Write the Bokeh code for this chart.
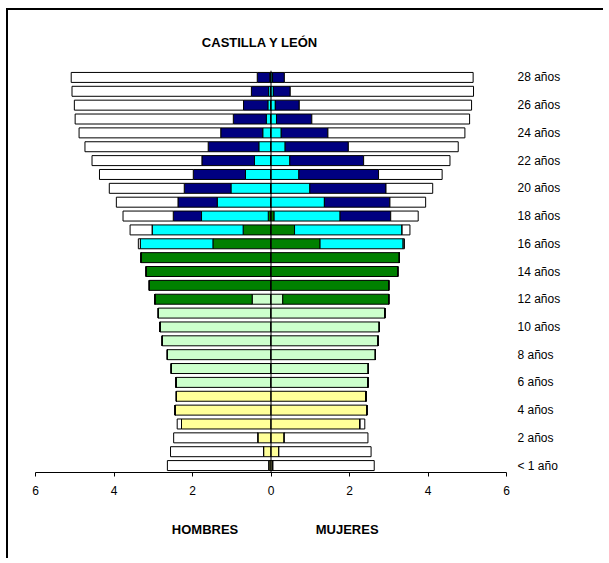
from bokeh.plotting import figure
from bokeh.layouts import column
from bokeh.models import ColumnDataSource, FixedTicker, Span, LinearAxis
from bokeh.embed import file_html
from bokeh.resources import INLINE

# ---------------- data ----------------
ages = list(range(29))
age_labels = ["< 1 año"] + [f"{a} años" for a in range(1, 29)]
x_ticks = [-6, -4, -2, 0, 2, 4, 6]
x_tick_labels = ["6", "4", "2", "0", "2", "4", "6"]
title_text = "CASTILLA Y LEÓN"
sex_labels = ["HOMBRES", "MUJERES"]

categories = ["Infantil", "Primaria", "ESO", "Bachillerato_FP", "Universidad", "No_estudia"]
colors = ["#FFFF99", "#CCFFCC", "#008000", "#00FFFF", "#000080", "#FFFFFF"]

# HOMBRES (ages 0..28)
h_infantil = [0.06, 0.19, 0.34, 2.28, 2.44, 2.41, 0, 0, 0, 0, 0, 0, 0, 0, 0,
              0, 0, 0, 0, 0, 0, 0, 0, 0, 0, 0, 0, 0, 0]
h_primaria = [0, 0, 0, 0, 0, 0, 2.42, 2.54, 2.64, 2.77, 2.83, 2.87, 0.48, 0, 0,
              0, 0, 0, 0, 0, 0, 0, 0, 0, 0, 0, 0, 0, 0]
h_eso = [0, 0, 0, 0, 0, 0, 0, 0, 0, 0, 0, 0, 2.48, 3.10, 3.18,
         3.31, 1.48, 0.71, 0.07, 0, 0, 0, 0, 0, 0, 0, 0, 0, 0]
h_bach = [0, 0, 0, 0, 0, 0, 0, 0, 0, 0, 0, 0, 0, 0, 0,
          0, 1.85, 2.32, 1.70, 1.37, 1.02, 0.65, 0.42, 0.31, 0.21, 0.12, 0.08, 0.06, 0.03]
h_univ = [0, 0, 0, 0, 0, 0, 0, 0, 0, 0, 0, 0, 0, 0, 0,
          0, 0, 0, 0.72, 1.00, 1.19, 1.33, 1.34, 1.29, 1.07, 0.84, 0.62, 0.44, 0.32]
h_no = [2.58, 2.37, 2.14, 0.11, 0, 0, 0, 0, 0, 0, 0, 0, 0, 0, 0,
        0, 0.05, 0.56, 1.28, 1.57, 1.91, 2.39, 2.80, 3.14, 3.61, 4.03, 4.31, 4.57, 4.74]

# MUJERES (ages 0..28)
m_infantil = [0.05, 0.20, 0.34, 2.27, 2.44, 2.42, 0, 0, 0, 0, 0, 0, 0, 0, 0,
              0, 0, 0, 0, 0, 0, 0, 0, 0, 0, 0, 0, 0, 0]
m_primaria = [0, 0, 0, 0, 0, 0, 2.47, 2.48, 2.66, 2.73, 2.76, 2.90, 0.30, 0, 0,
              0, 0, 0, 0, 0, 0, 0, 0, 0, 0, 0, 0, 0, 0]
m_eso = [0, 0, 0, 0, 0, 0, 0, 0, 0, 0, 0, 0, 2.70, 3.00, 3.23,
         3.27, 1.25, 0.60, 0.08, 0, 0, 0, 0, 0, 0, 0, 0, 0, 0]
m_bach = [0, 0, 0, 0, 0, 0, 0, 0, 0, 0, 0, 0, 0, 0, 0,
          0, 2.12, 2.74, 1.68, 1.36, 0.99, 0.71, 0.48, 0.36, 0.26, 0.14, 0.11, 0.06, 0.04]
m_univ = [0, 0, 0, 0, 0, 0, 0, 0, 0, 0, 0, 0, 0, 0, 0,
          0, 0, 0, 1.29, 1.67, 1.94, 2.03, 1.88, 1.61, 1.19, 0.90, 0.61, 0.43, 0.30]
m_no = [2.58, 2.35, 2.13, 0.12, 0, 0, 0, 0, 0, 0, 0, 0, 0, 0, 0,
        0, 0.03, 0.20, 0.70, 0.91, 1.19, 1.62, 2.20, 2.80, 3.49, 4.02, 4.39, 4.67, 4.81]

hombres = [h_infantil, h_primaria, h_eso, h_bach, h_univ, h_no]
mujeres = [m_infantil, m_primaria, m_eso, m_bach, m_univ, m_no]

# ---------------- figure ----------------
FONT = "Liberation Sans"

p = figure(width=595, height=548, x_range=(-6, 6), y_range=(-0.5, 28.5),
           output_backend="svg", toolbar_location=None, y_axis_location="right",
           min_border_left=27, min_border_right=97, min_border_top=60,
           min_border_bottom=86)
p.outline_line_color = None
p.xgrid.grid_line_color = None
p.ygrid.grid_line_color = None
p.background_fill_color = "white"
p.border_fill_color = "white"

src_h = ColumnDataSource({"age": ages, **{c: [-v for v in vals] for c, vals in zip(categories, hombres)}})
src_m = ColumnDataSource({"age": ages, **{c: vals for c, vals in zip(categories, mujeres)}})

p.hbar_stack(categories, y="age", height=0.72, color=colors, line_color="black",
             line_width=1, source=src_h)
p.hbar_stack(categories, y="age", height=0.72, color=colors, line_color="black",
             line_width=1, source=src_m)

p.add_layout(Span(location=0, dimension="height", line_color="black", line_width=1))

# x axis
xa = p.xaxis[0]
xa.ticker = FixedTicker(ticks=x_ticks)
xa.major_label_overrides = {t: l for t, l in zip(x_ticks, x_tick_labels)}
xa.minor_tick_line_color = None
xa.axis_line_color = "black"
xa.major_tick_line_color = "black"
xa.major_tick_in = 0
xa.major_tick_out = 4
xa.major_label_standoff = 9
xa.major_label_text_font = FONT
xa.major_label_text_font_size = "12px"
xa.major_label_text_color = "black"

# right category axis
ya = p.yaxis[0]
ya.ticker = FixedTicker(ticks=list(range(0, 29, 2)))
ya.major_label_overrides = {a: age_labels[a] for a in range(0, 29, 2)}
ya.axis_line_color = None
ya.major_tick_line_color = None
ya.minor_tick_line_color = None
ya.major_label_standoff = 5
ya.major_label_text_font = FONT
ya.major_label_text_font_size = "12px"
ya.major_label_text_color = "black"


def text_axis(ticks, labels, standoff):
    ax = LinearAxis(ticker=FixedTicker(ticks=ticks),
                    major_label_overrides={t: l for t, l in zip(ticks, labels)})
    ax.axis_line_color = None
    ax.major_tick_line_color = None
    ax.minor_tick_line_color = None
    ax.major_label_standoff = standoff
    ax.major_label_text_font = FONT
    ax.major_label_text_font_size = "13px"
    ax.major_label_text_font_style = "bold"
    ax.major_label_text_color = "black"
    return ax


# title (above) and sex labels (below)
p.add_layout(text_axis([-0.28], [title_text], 15), "above")
p.add_layout(text_axis([-1.68, 1.94], sex_labels, 18), "below")

layout = column(p, styles={"margin-left": "6px", "margin-top": "8px",
                           "border-top": "2px solid #000000",
                           "border-left": "2px solid #000000"})

open("out.html", "w").write(file_html(layout, INLINE))
